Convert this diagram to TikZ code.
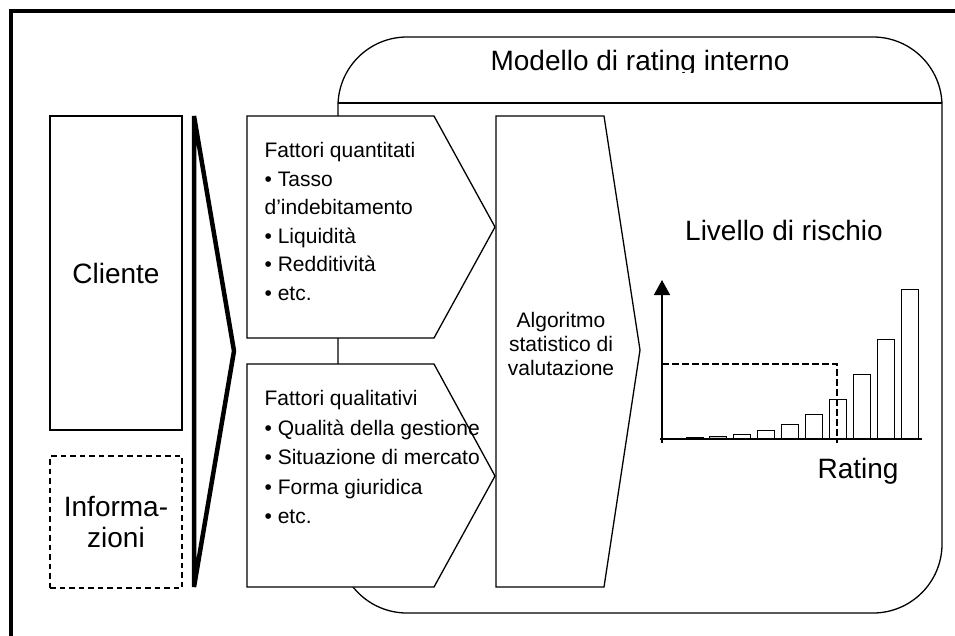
\documentclass[tikz,border=0pt]{standalone}
\usepackage{fontspec}
\setmainfont{Liberation Sans}
\usetikzlibrary{arrows.meta}

\begin{document}
\begin{tikzpicture}[x=1pt,y=-1pt,line width=1.3pt,
    bigtext/.style={font=\fontsize{28}{31}\selectfont,inner sep=0pt},
    smalltext/.style={font=\fontsize{21}{24}\selectfont,inner sep=0pt},
    factor/.style={draw,fill=white,line join=miter},
    bar/.style={draw,line width=1pt},
    level/.style={line width=2pt,dash pattern=on 6.5pt off 3.5pt}]
  \useasboundingbox (0,0) rectangle (955,635);
  % outer frame
  \draw[line width=4.5pt] (11,11) rectangle (1000,700);

  % rating model
  \draw[rounded corners=69pt] (338,37) rectangle (942,613);
  \draw (338,103) -- (942,103);
  \begin{scope}
    \clip (338,37) rectangle (942,72);
    \node[bigtext,anchor=base] (modello) at (640,70) {Modello di rating interno};
  \end{scope}

  % sources
  \node[draw,bigtext,minimum width=132pt,minimum height=314pt] (cliente) at (116,273) {Cliente};
  \node[draw,bigtext,align=center,dash pattern=on 5.5pt off 4pt,
        minimum width=132pt,minimum height=132pt] (info) at (116,522) {Informa-\\zioni};
  \draw[line width=4.5pt,line join=bevel] (194,116) -- (234,351) -- (194,587) -- cycle;

  % factors
  \draw[factor] (247,116) -- (434,116) -- (495,227) -- (434,338) -- (247,338) -- cycle;
  \draw[factor] (247,364) -- (434,364) -- (495,476) -- (434,587) -- (247,587) -- cycle;
  \node[smalltext,font=\fontsize{21}{28.5}\selectfont,align=left,anchor=north west] (quant) at (264,142)
    {Fattori quantitati\\ \textbullet{} Tasso\\ d’indebitamento\\ \textbullet{} Liquidità\\
     \textbullet{} Redditività\\ \textbullet{} etc.};
  \node[smalltext,font=\fontsize{21}{29.5}\selectfont,align=left,anchor=north west] (qual) at (264,390)
    {Fattori qualitativi\\ \textbullet{} Qualità della gestione\\ \textbullet{} Situazione di mercato\\
     \textbullet{} Forma giuridica\\ \textbullet{} etc.};

  % algorithm
  \draw[factor] (496,116) -- (604,116) -- (640,350) -- (604,587) -- (496,587) -- cycle;
  \node[smalltext,align=center,anchor=north] (algo) at (561,312) {Algoritmo\\statistico di\\valutazione};

  % risk level chart
  \node[bigtext,anchor=base] (livello) at (784,240) {Livello di rischio};
  \node[bigtext,anchor=base] (rating) at (858,478) {Rating};
  \coordinate (orig) at (662,439);
  \foreach \h/\c [count=\i from 0] in {2/black,3/gray!40,5/white,9/white,15/white,
                                       25/white,40/white,65/white,100/white,150/white}
    \draw[bar,fill=\c] ({686+23.9*\i},439) rectangle ++(17,-\h);
  \draw[line width=1.5pt] (660,439) -- (922,439);
  \draw[line width=1.5pt,-{Triangle[width=16pt,length=15pt]}] (662,443) -- (662,280);
  \draw[level] (662,364) -| (837,443);
\end{tikzpicture}
\end{document}
